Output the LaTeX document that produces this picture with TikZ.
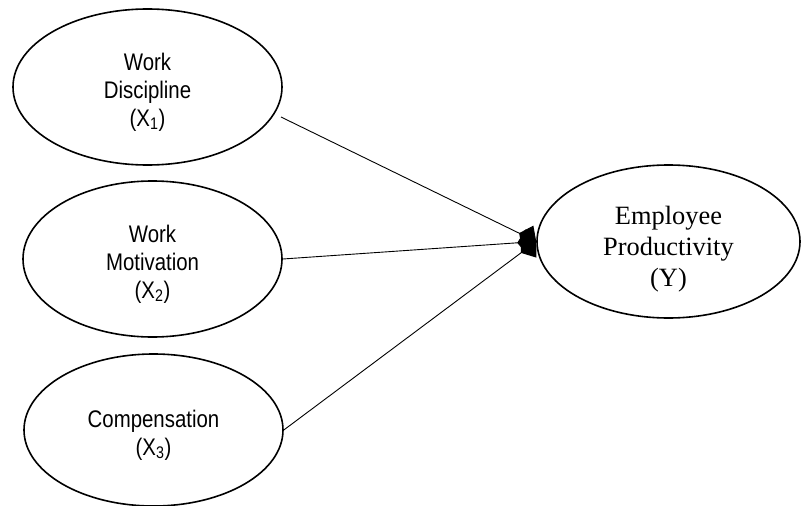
\documentclass[tikz,border=0pt]{standalone}
\usepackage{fontspec}
\newfontfamily\arialfont[FakeStretch=0.85]{Liberation Sans}
\newfontfamily\timesfont{Liberation Serif}
\usetikzlibrary{arrows.meta, shapes.geometric}

\tikzset{
  varx/.style={draw, ellipse, line width=1.6pt, inner sep=0pt},
  xtext/.style={align=center, yshift=-5pt, font=\arialfont\fontsize{24}{28}\selectfont},
  ytext/.style={align=center, yshift=-8pt, font=\timesfont\fontsize{26.4}{31}\selectfont},
  link/.style={line width=0.9pt, -{Diamond[length=19pt,width=26pt]}}
}

\begin{document}
\begin{tikzpicture}[x=1pt, y=-1pt]
    \useasboundingbox (0,0) rectangle (801,506);

    % independent variables
    \node[varx, minimum width=269pt, minimum height=156pt,
      label={[xtext]center:Work\\Discipline\\(X\textsubscript{1})}] (x1) at (147.5,87) {};
    \node[varx, minimum width=259pt, minimum height=156pt,
      label={[xtext]center:Work\\Motivation\\(X\textsubscript{2})}] (x2) at (152.5,259) {};
    \node[varx, minimum width=259pt, minimum height=152pt,
      label={[xtext]center:Compensation\\(X\textsubscript{3})}] (x3) at (153.5,430) {};

    % dependent variable
    \node[varx, minimum width=263pt, minimum height=153pt,
      label={[ytext]center:Employee\\Productivity\\(Y)}] (y) at (668.5,241.5) {};

    \coordinate (s1) at (281,117);
    \draw[link] (s1) -- (y.west);
    \draw[link] (x2.east) -- (y.west);
    \draw[link] (x3.east) -- (y.west);

\end{tikzpicture}
\end{document}
